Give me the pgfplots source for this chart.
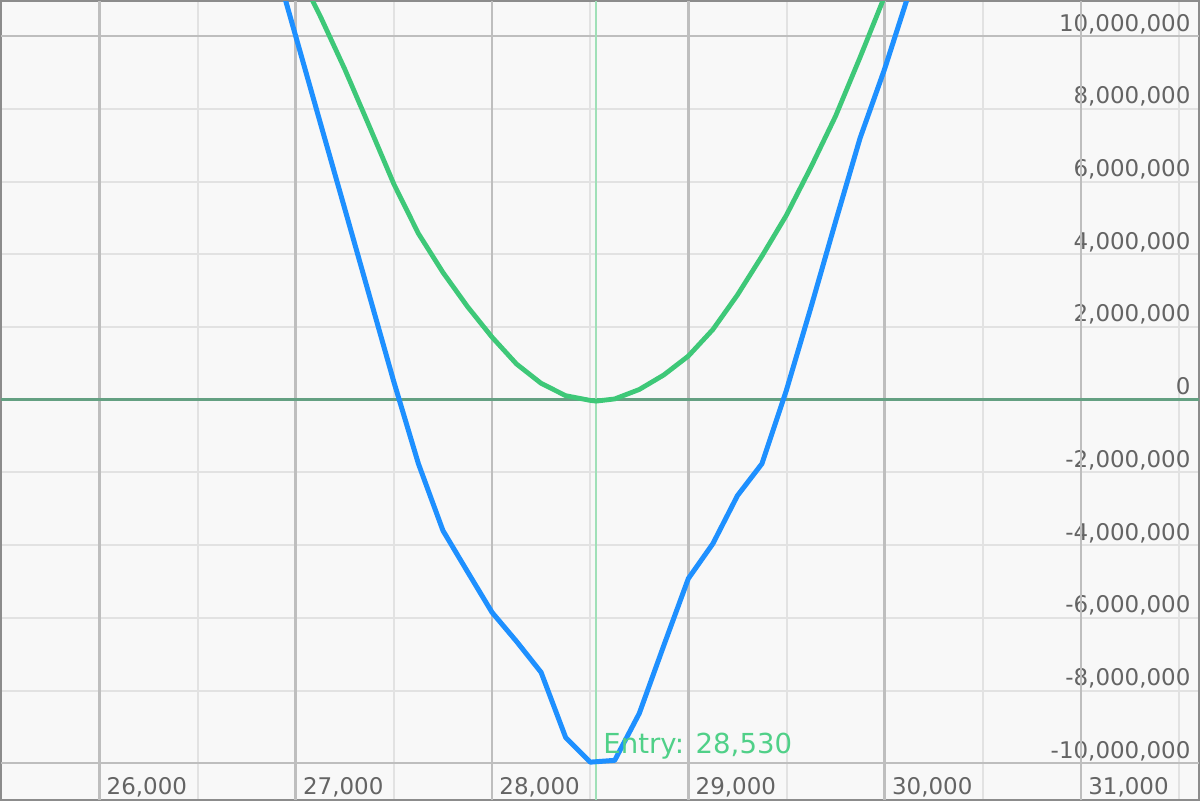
\documentclass[border=0pt]{standalone}
\usepackage{pgfplots}
\pgfplotsset{compat=1.18}
\usepackage{fontspec}
\setmainfont{DejaVu Sans}
\definecolor{bgc}{RGB}{248,248,248}
\definecolor{bordc}{RGB}{140,140,140}
\definecolor{gridlight}{RGB}{226,226,226}
\definecolor{griddark}{RGB}{190,190,190}
\definecolor{tickc}{RGB}{100,100,100}
\definecolor{zeroc}{RGB}{100,160,130}
\definecolor{entryc}{RGB}{160,224,184}
\definecolor{entrytext}{RGB}{80,208,136}
\definecolor{bluec}{RGB}{30,144,255}
\definecolor{greenc}{RGB}{62,200,120}
\begin{document}
\begin{tikzpicture}
\begin{axis}[
  scale only axis, width=600pt, height=400pt,
  xmin=25500, xmax=31600, ymin=-11000000, ymax=10960000,
  axis background/.style={fill=bgc},
  axis line style={draw=bordc, line width=1pt},
  xtick={26000,27000,...,31000},
  minor xtick={25500,26500,...,31500},
  ytick={-10000000,-8000000,...,10000000},
  xmajorgrids, xminorgrids, ymajorgrids,
  major grid style={draw=gridlight, line width=1pt},
  minor grid style={draw=gridlight, line width=1pt},
  extra x ticks={26000,27000,...,31000}, extra x tick labels={},
  extra x tick style={grid=major, major grid style={draw=griddark, line width=1.2pt}},
  extra y ticks={-10000000,10000000}, extra y tick labels={},
  extra y tick style={grid=major, major grid style={draw=griddark, line width=1.2pt}},
  major tick length=0pt, minor tick length=0pt,
  scaled x ticks=false, scaled y ticks=false,
  /pgf/number format/1000 sep={,},
  /pgf/number format/fixed,
  /pgf/number format/precision=0,
  /pgf/number format/assume math mode=true,
  tick label style={font=\fontsize{11.5}{13}\selectfont, text=tickc, inner sep=0pt},
  xticklabel style={anchor=base west, xshift=3.5pt, yshift=2.5pt},
  yticklabel pos=right,
  yticklabel style={anchor=base east, xshift=-4pt, yshift=2.5pt},
  clip=true,
]
\addplot [zeroc, line width=1.2pt] coordinates {(25500,0) (31600,0)};
\addplot [entryc, line width=1pt] coordinates {(28530,-11000000) (28530,10960000)};
% green curve
\addplot [greenc, line width=2.4pt, line join=round] coordinates {
(26875,13400000) (27000,11900000) (27125,10550000) (27250,9090000) (27375,7520000)
(27500,5930000) (27625,4570000) (27750,3500000) (27875,2560000) (28000,1720000)
(28125,980000) (28250,450000) (28375,110000) (28500,-20000) (28530,-40000)
(28625,20000) (28750,280000) (28875,680000) (29000,1200000) (29125,1930000)
(29250,2880000) (29375,3950000) (29500,5080000) (29625,6400000) (29750,7800000)
(29875,9420000) (30000,11100000) (30125,12800000)
};
% blue curve
\addplot [bluec, line width=2.5pt, line join=round] coordinates {
(26875,12380000) (27000,10000000) (27125,7620000) (27250,5250000) (27375,2870000)
(27500,490000) (27625,-1760000) (27750,-3600000) (27875,-4730000) (28000,-5850000)
(28125,-6650000) (28250,-7500000) (28375,-9290000) (28500,-9970000) (28625,-9920000)
(28750,-8630000) (28875,-6760000) (29000,-4920000) (29125,-3960000) (29250,-2640000)
(29375,-1760000) (29500,270000) (29625,2550000) (29750,4900000) (29875,7200000)
(30000,9100000) (30125,11200000)
};
\node[anchor=base west, font=\fontsize{13.8}{16}\selectfont, text=entrytext, inner sep=0pt, xshift=3.5pt] at (axis cs:28530,-9730000) {Entry: 28,530};
\end{axis}
\end{tikzpicture}
\end{document}
